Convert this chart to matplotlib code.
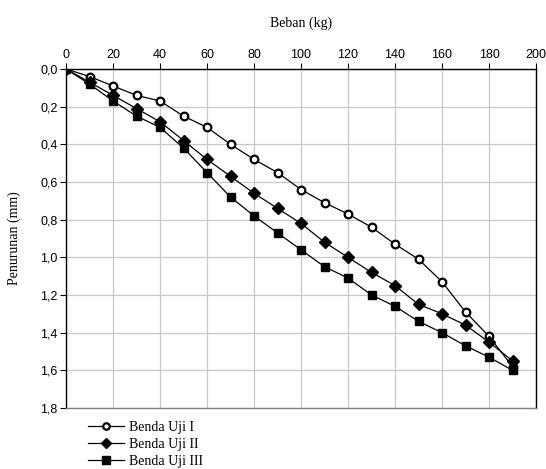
import matplotlib
matplotlib.use("Agg")
import matplotlib.pyplot as plt
from matplotlib.ticker import FuncFormatter, MultipleLocator

# beban (kg)
beban = [0, 10, 20, 30, 40, 50, 60, 70, 80, 90, 100, 110, 120, 130, 140, 150, 160, 170, 180, 190]

# penurunan (mm)
uji_1 = [0, 0.04, 0.09, 0.14, 0.17, 0.25, 0.31, 0.40, 0.48, 0.55, 0.64, 0.71, 0.77, 0.84, 0.93, 1.01, 1.13, 1.29, 1.42, 1.58]
uji_2 = [0, 0.07, 0.14, 0.21, 0.28, 0.38, 0.48, 0.57, 0.66, 0.74, 0.82, 0.92, 1.00, 1.08, 1.15, 1.25, 1.30, 1.36, 1.45, 1.55]
uji_3 = [0, 0.08, 0.17, 0.25, 0.31, 0.42, 0.55, 0.68, 0.78, 0.87, 0.96, 1.05, 1.11, 1.20, 1.26, 1.34, 1.40, 1.47, 1.53, 1.60]

labels = ["Benda Uji I", "Benda Uji II", "Benda Uji III"]

serif = "Liberation Serif"
sans = "Liberation Sans"

fig = plt.figure(figsize=(5.46, 4.69), dpi=100)
ax = fig.add_axes([0.1209, 0.1301, 0.8608, 0.7228])

ax.plot(beban, uji_1, color="black", lw=0.9, marker="o", ms=5.5,
        mfc="white", mec="black", mew=1.6, label=labels[0], zorder=3)
ax.plot(beban, uji_2, color="black", lw=0.9, marker="D", ms=6,
        mfc="black", mec="black", label=labels[1], zorder=4)
ax.plot(beban, uji_3, color="black", lw=0.9, marker="s", ms=6,
        mfc="black", mec="black", label=labels[2], zorder=5)

ax.set_xlim(0, 200)
ax.set_ylim(1.8, 0)
ax.xaxis.set_major_locator(MultipleLocator(20))
ax.yaxis.set_major_locator(MultipleLocator(0.2))
ax.yaxis.set_major_formatter(FuncFormatter(lambda v, p: f"{v:.1f}".replace(".", ",")))

ax.xaxis.tick_top()
ax.xaxis.set_label_position("top")
ax.tick_params(axis="both", direction="out", length=4, width=0.8, labelsize=9, pad=2)
for lab in ax.get_xticklabels() + ax.get_yticklabels():
    lab.set_fontfamily(sans)

ax.grid(True, color="#c8c8c8", lw=0.9)
ax.set_axisbelow(True)
for side in ["top", "left", "right"]:
    ax.spines[side].set_color("black")
    ax.spines[side].set_linewidth(1.0)
ax.spines["bottom"].set_color("#808080")
ax.spines["bottom"].set_linewidth(1.0)

ax.set_xlabel("Beban (kg)", fontfamily=serif, fontsize=10, labelpad=16)
ax.set_ylabel("Penurunan (mm)", fontfamily=serif, fontsize=10, labelpad=14)

h, l = ax.get_legend_handles_labels()
fig.legend(h, l, loc="upper left",
           bbox_to_anchor=(0.148, 0.118), frameon=False, borderpad=0,
           handlelength=2.6, handletextpad=0.4, labelspacing=0.3,
           markerscale=0.85, prop={"family": serif, "size": 10})

fig.savefig("out.png", dpi=100)
